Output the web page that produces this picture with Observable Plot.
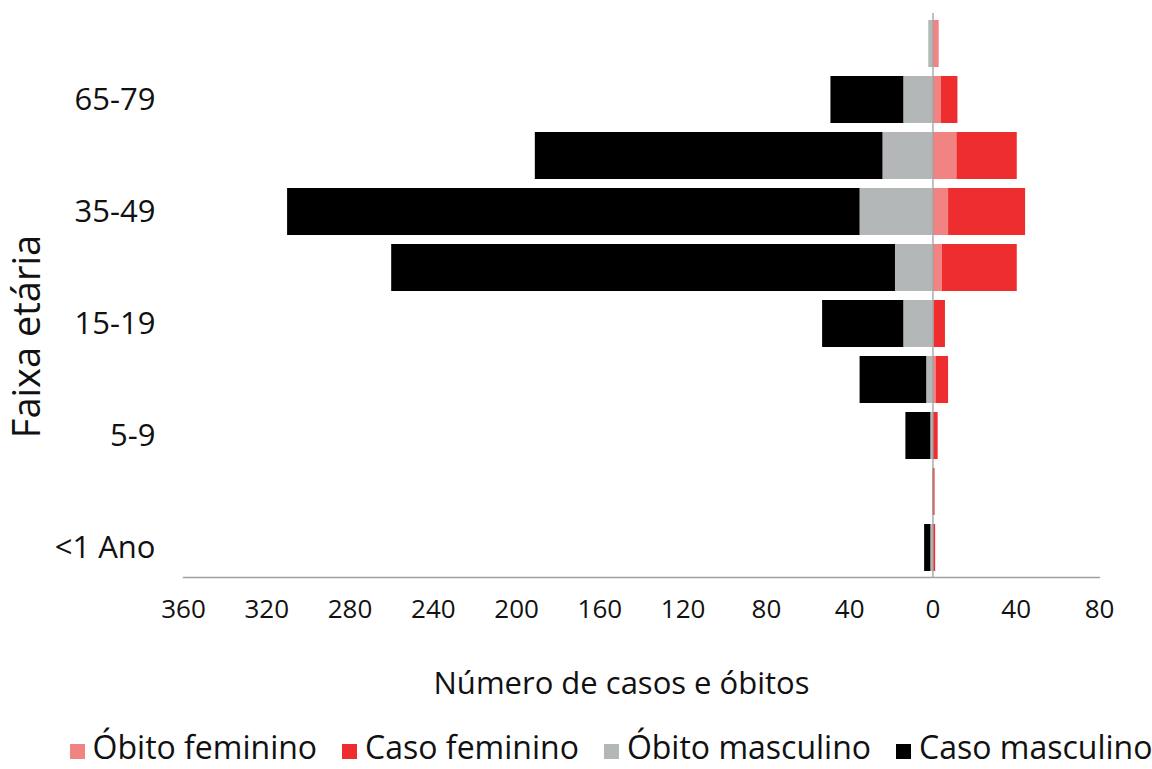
<!DOCTYPE html>
<html>
<head>
<meta charset="utf-8">
<script src="https://cdn.jsdelivr.net/npm/d3@7"></script>
<script src="https://cdn.jsdelivr.net/npm/@observablehq/plot@0.6"></script>
<style>
  html, body { margin: 0; padding: 0; background: #fff; overflow: hidden; }
  body { width: 1152px; font-family: "Open Sans", sans-serif; color: #111; }
  #chart svg { display: block; }
  #legend { display: flex; justify-content: center; align-items: center; gap: 25px; font-size: 32px; line-height: 32px; height: 32px; margin-top: 6px; margin-left: 70px; white-space: nowrap; }
  #legend .item { display: flex; align-items: baseline; gap: 8px; }
  #legend .sw { width: 15px; height: 15px; display: inline-block; }
</style>
</head>
<body>
<div id="chart"></div>
<div id="legend"></div>
<script>
const ages = ["<1 Ano", "1-4", "5-9", "10-14", "15-19", "20-34", "35-49", "50-64", "65-79", "80+"];
const shownAges = ["<1 Ano", "5-9", "15-19", "35-49", "65-79"];
const obitoFeminino  = [0.3, 0, 0, 1.5, 0.5, 4.5, 7.5, 11.5, 4, 3];
const casoFeminino   = [1, 1, 2.5, 6, 5.5, 36, 37, 29, 8, 0];
const obitoMasculino = [1, 0, 1, 3, 14, 18, 35, 24, 14, 2];
const casoMasculino  = [3, 0, 12, 32, 39, 242, 275, 167, 35, 0];
const seriesNames = ["Óbito feminino", "Caso feminino", "Óbito masculino", "Caso masculino"];
const seriesColors = ["#f28383", "#ee2e2e", "#b4b7b7", "#000000"];
const xTicks = [-360, -320, -280, -240, -200, -160, -120, -80, -40, 0, 40, 80];

const seriesValues = [obitoFeminino, casoFeminino, obitoMasculino, casoMasculino];
const signs = [1, 1, -1, -1];
const rows = [];
ages.forEach((age, i) => {
  seriesNames.forEach((s, k) => {
    rows.push({age, serie: s, value: signs[k] * seriesValues[k][i]});
  });
});

const chart = Plot.plot({
  width: 1152,
  height: 725,
  marginTop: 13,
  marginBottom: 148,
  marginLeft: 183,
  marginRight: 53,
  style: {fontFamily: "Open Sans, sans-serif", color: "#111", background: "#fff"},
  x: {domain: [-360, 80], ticks: xTicks, tickFormat: d => Math.abs(d)},
  y: {domain: ages.slice().reverse(), paddingInner: 0.165, paddingOuter: 0.09},
  color: {domain: seriesNames, range: seriesColors},
  marks: [
    Plot.barX(rows, Plot.stackX({y: "age", x: "value", fill: "serie", order: null})),
    Plot.ruleX([0], {stroke: "#a0a0a0", strokeWidth: 1.3}),
    Plot.frame({anchor: "bottom", stroke: "#a0a0a0", strokeWidth: 1.3}),
    Plot.axisX({ticks: xTicks, tickSize: 0, tickPadding: 22, fontSize: 26, label: null, tickFormat: d => Math.abs(d)}),
    Plot.axisY({ticks: shownAges, tickSize: 0, tickPadding: 28, fontSize: 31, label: null}),
    Plot.text(["Número de casos e óbitos"], {frameAnchor: "bottom", dx: -20, dy: 107, lineAnchor: "middle", textAnchor: "middle", fontSize: 31, fill: "#111"}),
    Plot.text(["Faixa etária"], {frameAnchor: "left", dx: -156, dy: 41, rotate: -90, lineAnchor: "middle", textAnchor: "middle", fontSize: 38, fill: "#111"})
  ]
});
document.getElementById("chart").appendChild(chart);

const legend = document.getElementById("legend");
seriesNames.forEach((s, k) => {
  const item = document.createElement("span");
  item.className = "item";
  const sw = document.createElement("span");
  sw.className = "sw";
  sw.style.background = seriesColors[k];
  const label = document.createElement("span");
  label.textContent = s;
  item.appendChild(sw);
  item.appendChild(label);
  legend.appendChild(item);
});
</script>
</body>
</html>
